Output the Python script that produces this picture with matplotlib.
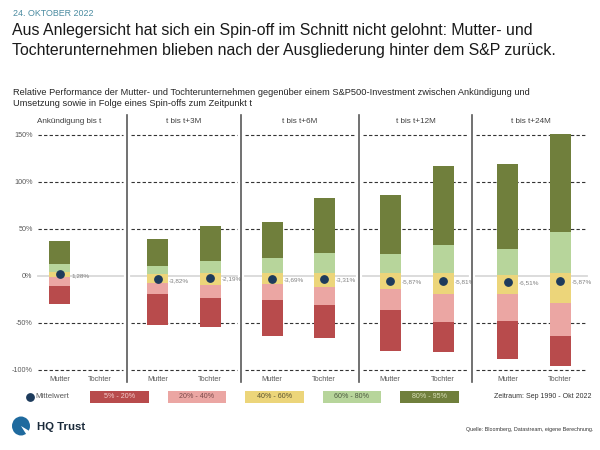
import matplotlib
matplotlib.use("Agg")
import matplotlib.pyplot as plt
from matplotlib.patches import Rectangle, Ellipse, Polygon
from matplotlib.lines import Line2D
import numpy as np

plt.rcParams['font.family'] = ['Liberation Sans', 'DejaVu Sans']

# --- data (relative performance vs. S&P500 in %) ---
panels = ["Ankündigung bis t", "t bis t+3M", "t bis t+6M", "t bis t+12M", "t bis t+24M"]
members = ["Mutter", "Tochter"]
bands = ["5% - 20%", "20% - 40%", "40% - 60%", "60% - 80%", "80% - 95%"]

mutter_p5 = [-30, -52.5, -64, -80, -89]
mutter_p20 = [-11, -20, -25.5, -36.5, -48]
mutter_p40 = [-1, -8, -8.8, -14, -19.5]
mutter_p60 = [4, 2, 3.2, 2.5, 1]
mutter_p80 = [12, 10.6, 18.5, 23, 28]
mutter_p95 = [37, 38.7, 56.8, 85.5, 118.5]
mutter_mean = [1.28, -3.82, -3.69, -5.87, -6.51]

tochter_p5 = [np.nan, -55, -66.6, -81.5, -96]
tochter_p20 = [np.nan, -24, -31, -49, -64]
tochter_p40 = [np.nan, -9.9, -11.7, -19.5, -28.7]
tochter_p60 = [np.nan, 3.2, 3.2, 2.5, 2.5]
tochter_p80 = [np.nan, 16, 23.8, 32.7, 46.8]
tochter_p95 = [np.nan, 52.9, 82.3, 117, 150.7]
tochter_mean = [np.nan, -2.19, -3.31, -5.81, -5.87]

yticks = [-100, -50, 0, 50, 100, 150]

# --- style ---
band_colors = ['#b84b4c', '#eba6a3', '#ecd57a', '#b7d59b', '#707f3c']
band_text = ['#f4cccb', '#7a4a4a', '#5a5330', '#4d5a40', '#d6ddb4']
dot_color = '#1d3b5c'
txt_gray = '#595959'

W, H = 600, 450
fig = plt.figure(figsize=(6, 4.5), dpi=100)

def fx(px):
    return px / W

def fy(py):
    return 1 - py / H

# layout in pixels
edges = [34, 127, 241, 359, 472, 591]
m_px = [59.5, 157.5, 272, 390, 507.5]
t_px = [100, 210, 324, 443, 560]
head_px = [69, 184, 300, 415.5, 531]
ax_top, ax_bot = 127.2, 372.5
bar_px = 21

mutter = [mutter_p5, mutter_p20, mutter_p40, mutter_p60, mutter_p80, mutter_p95]
tochter = [tochter_p5, tochter_p20, tochter_p40, tochter_p60, tochter_p80, tochter_p95]

for i, name in enumerate(panels):
    left, right = edges[i], edges[i + 1]
    ax = fig.add_axes([fx(left), fy(ax_bot), (right - left) / W, (ax_bot - ax_top) / H])
    s = t_px[i] - m_px[i]
    ax.set_xlim(-(m_px[i] - left) / s, 1 + (right - t_px[i]) / s)
    ax.set_ylim(-103, 158)
    bw = bar_px / s

    gap = 4 / (right - left)
    for v in yticks:
        if v == 0:
            ax.axhline(0, xmin=gap, xmax=1 - gap, color='#d9d9d9', lw=1.3, zorder=0)
        else:
            ax.axhline(v, xmin=gap, xmax=1 - gap, color='#333333', lw=0.8,
                       ls=(0, (3, 2)), zorder=0)

    for j, pct in enumerate([mutter, tochter]):
        vals = [p[i] for p in pct]
        if np.isnan(vals[0]):
            continue
        for k in range(5):
            ax.bar(j, vals[k + 1] - vals[k], bottom=vals[k], width=bw,
                   color=band_colors[k], lw=0, zorder=2)
        mean = [mutter_mean, tochter_mean][j][i]
        ax.plot(j, mean, 'o', color=dot_color, ms=5.3, zorder=3)
        lab = f"{mean:.2f}%".replace('.', ',')
        ax.annotate(lab, (j, mean), xytext=(bar_px / 2 + 1, -1),
                    textcoords='offset pixels', ha='left', va='center',
                    fontsize=4.6, color='#808080')

    ax.set_xticks([0, 1], members)
    ax.tick_params(axis='x', length=0, pad=2.5, labelsize=5.3, labelcolor=txt_gray)
    if i == 0:
        ax.set_yticks(yticks, [f"{v}%" for v in yticks])
        ax.tick_params(axis='y', length=0, pad=1, labelsize=5.2, labelcolor=txt_gray)
    else:
        ax.set_yticks([])
    for sp in ax.spines.values():
        sp.set_visible(False)

    ax.text((head_px[i] - left) / (right - left), 1 + 6 / (ax_bot - ax_top), name,
            transform=ax.transAxes, ha='center', va='center', fontsize=5.9, color='#404040')

# panel separators
for e in edges[1:-1]:
    fig.add_artist(Line2D([fx(e), fx(e)], [fy(115), fy(382)], color='#595959', lw=1.2))

# header texts
fig.text(fx(13), fy(13.3), "24. OKTOBER 2022", fontsize=6.4, color='#4a8ba0', va='center')
fig.text(fx(12), fy(31), "Aus Anlegersicht hat sich ein Spin-off im Schnitt nicht gelohnt: Mutter- und",
         fontsize=11.4, color='#1a1a1a', va='center')
fig.text(fx(12), fy(50), "Tochterunternehmen blieben nach der Ausgliederung hinter dem S&P zurück.",
         fontsize=11.4, color='#1a1a1a', va='center')
fig.text(fx(13), fy(92.5), "Relative Performance der Mutter- und Tochterunternehmen gegenüber einem "
         "S&P500-Investment zwischen Ankündigung und", fontsize=6.65, color='#262626', va='center')
fig.text(fx(13), fy(103.5), "Umsetzung sowie in Folge eines Spin-offs zum Zeitpunkt t",
         fontsize=6.65, color='#262626', va='center')

# legend
leg_y = 396.5
fig.add_artist(Line2D([fx(30)], [fy(leg_y)], marker='o', color=dot_color, ms=5.3, lw=0))
fig.text(fx(35), fy(leg_y), "Mittelwert", fontsize=5.7, color=txt_gray, va='center')
for k, b in enumerate(bands):
    x0 = 90 + k * 77.5
    fig.add_artist(Rectangle((fx(x0), fy(402.5)), 58.5 / W, 11.5 / H,
                             transform=fig.transFigure, color=band_colors[k], lw=0))
    fig.text(fx(x0 + 29.25), fy(leg_y), b, fontsize=5.1, color=band_text[k],
             ha='center', va='center')
fig.text(fx(591), fy(leg_y), "Zeitraum: Sep 1990 - Okt 2022", fontsize=5, color='#333333',
         ha='right', va='center')
fig.text(fx(593), fy(429), "Quelle: Bloomberg, Datastream, eigene Berechnung.", fontsize=3.9,
         color='#333333', ha='right', va='center')

# logo
fig.add_artist(Ellipse((fx(21), fy(426)), 18 / W, 19 / H, transform=fig.transFigure,
                       color='#1f6a9e', lw=0))
fig.add_artist(Polygon([(fx(21), fy(426)), (fx(31), fy(432)), (fx(28), fy(437))],
                       closed=True, transform=fig.transFigure, color='white', lw=0))
fig.text(fx(37), fy(426.5), "HQ Trust", fontsize=8.2, fontweight='bold', color='#1a2a3a',
         va='center')

fig.savefig("out.png", dpi=100)
